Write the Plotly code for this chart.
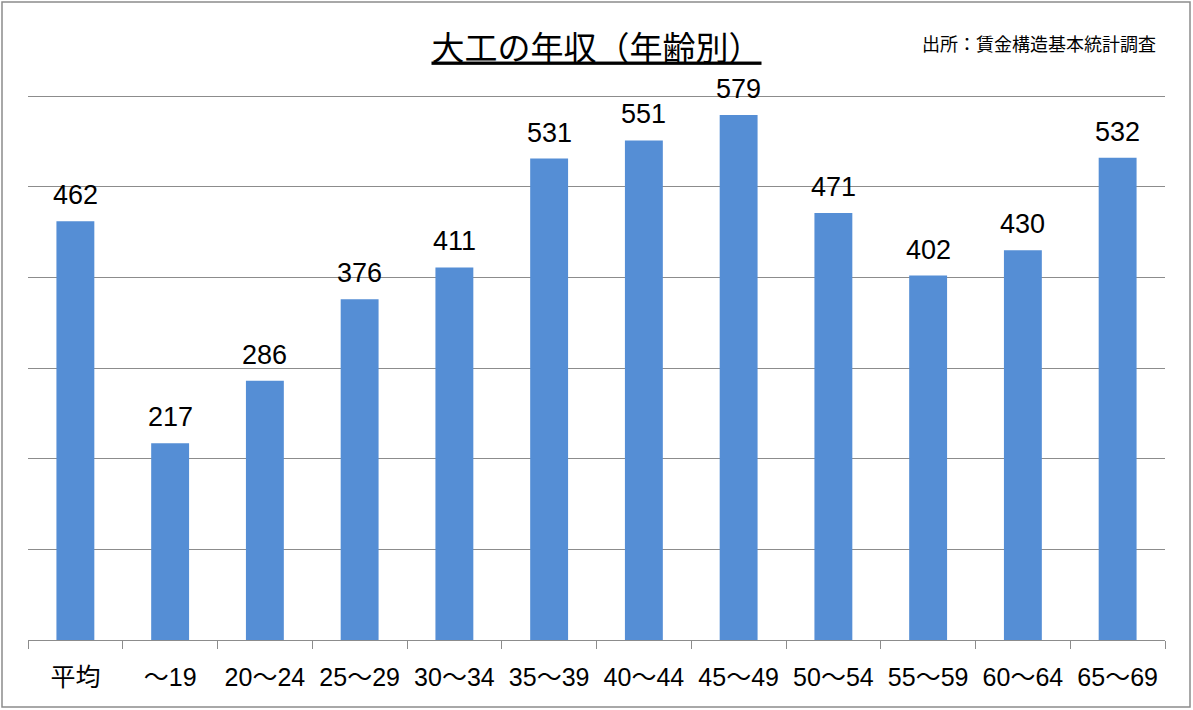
import plotly.graph_objects as go

# 大工の年収（年齢別）  単位: 万円
age_groups = ['平均', '～19', '20～24', '25～29', '30～34', '35～39',
              '40～44', '45～49', '50～54', '55～59', '60～64', '65～69']
income = [462, 217, 286, 376, 411, 531, 551, 579, 471, 402, 430, 532]

W, H = 1193, 710
# top of plot sits a little above the 600 line so that gridline is drawn
ML, MR, MT, MB = 28, 28, 87, 70
pw, ph = W - ML - MR, H - MT - MB

fig = go.Figure(go.Bar(
    x=age_groups,
    y=income,
    marker=dict(color='#558ED5', line=dict(width=0)),
    width=0.4,
    hoverinfo='x+y',
))

# value labels above the bars
for cat, val in zip(age_groups, income):
    fig.add_annotation(
        x=cat, y=val, text=str(val),
        xref='x', yref='y',
        yanchor='bottom', yshift=9,
        showarrow=False,
        font=dict(family='Liberation Sans, Noto Sans CJK JP', size=27, color='black'),
    )

fig.update_layout(
    width=W, height=H,
    margin=dict(l=ML, r=MR, t=MT, b=MB),
    paper_bgcolor='white',
    plot_bgcolor='white',
    showlegend=False,
    font=dict(family='Noto Sans CJK JP', color='black'),
    title=dict(
        text='<u>大工の年収（年齢別）</u>',
        x=0.5, xanchor='center',
        y=1 - 48 / H, yanchor='middle',
        font=dict(size=33, family='Noto Sans CJK JP', color='black'),
    ),
    xaxis=dict(
        showline=True, linecolor='#8c8c8c', linewidth=1,
        ticks='outside', tickson='boundaries', ticklen=8, tickcolor='#8c8c8c',
        tickfont=dict(size=25, family='Liberation Sans, Noto Sans CJK JP'),
        ticklabelstandoff=15,
        showgrid=False,
    ),
    yaxis=dict(
        range=[0, 610], tickvals=[100, 200, 300, 400, 500, 600],
        showgrid=True, gridcolor='#8c8c8c', gridwidth=1,
        showticklabels=False, zeroline=False,
    ),
)

# source note
fig.add_annotation(
    text='出所：賃金構造基本統計調査',
    xref='paper', yref='paper',
    x=(1158 - ML) / pw, y=1 + (MT - 43) / ph,
    xanchor='right', yanchor='middle',
    showarrow=False,
    font=dict(size=18, family='Noto Sans CJK JP', color='black'),
)

# outer frame
fig.add_shape(
    type='rect', xref='paper', yref='paper',
    x0=(2 - ML) / pw, x1=(W - 3 - ML) / pw,
    y0=-(MB - 3) / ph, y1=1 + (MT - 2) / ph,
    line=dict(color='#8c8c8c', width=1.5),
)

fig.write_html('out.html', config={'displayModeBar': False},
               post_script="document.body.style.margin='0';")
